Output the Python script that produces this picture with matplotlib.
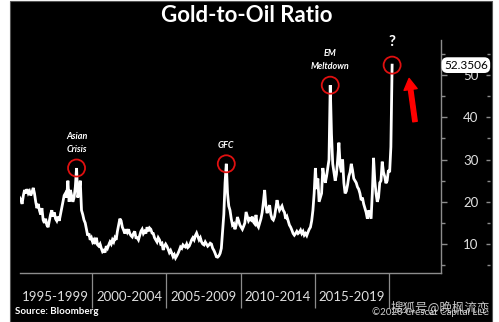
import numpy as np
import pandas as pd
import matplotlib
matplotlib.use("Agg")
import matplotlib.pyplot as plt
from matplotlib.patches import Rectangle
import matplotlib.transforms as mtransforms

# ---------------- data (monthly gold-to-oil ratio) -------------
start_month = "1995-02"
ratio_1995_1999 = [
    21, 20.5, 19.5, 21.5, 22.8, 22, 23, 22, 22.5, 21.5, 22.3,            # 1995 (Feb-Dec)
    23.3, 22, 20, 18.5, 19.5, 18, 17, 18.5, 15.7, 15, 16, 14.5,         # 1996
    14, 15.5, 17, 18, 16.5, 17.5, 16, 15.5, 16.5, 15.5, 17, 18.5,       # 1997
    20, 21.5, 22, 21, 25, 20, 22.8, 21.5, 20, 21, 23.5, 28,             # 1998
    21, 22.5, 25, 18, 17, 15.7, 15, 13.5, 12, 12.5, 11, 11.5,           # 1999
]
ratio_2000_2004 = [
    10.5, 11, 10, 11.5, 9.8, 9.5, 10, 9, 8.2, 8.5, 8, 9.5,             # 2000
    9, 9.8, 10.5, 10, 11, 10.5, 11.5, 11, 13, 14.5, 16, 15.5,           # 2001
    14, 13.3, 12.5, 13.5, 12.8, 13.5, 12.5, 12, 11.7, 12.5, 13, 11.5,   # 2002
    11.5, 11, 12, 13, 13.5, 12.5, 13, 12.5, 14, 13, 13.8, 13.5,         # 2003
    12.6, 12.5, 11.5, 11, 10.5, 11.5, 11, 10, 10.2, 8.6, 9.5, 10,       # 2004
]
ratio_2005_2009 = [
    9.5, 8.8, 8, 8.5, 7.8, 7, 7.5, 6.7, 7.2, 7.8, 8.5, 9.3,            # 2005
    9, 9.8, 9.5, 9.3, 10, 9.2, 9.5, 10.2, 11, 11.5, 11, 12,             # 2006
    12.6, 11.8, 11, 11.5, 10.5, 10, 9.8, 10.5, 10, 9.5, 9.8, 10.2,      # 2007
    10, 9, 8.5, 7.8, 7, 6.9, 7.2, 7.8, 9, 13, 17, 24.5,                 # 2008
    29, 22, 19, 18, 16, 14.5, 14.8, 13.5, 14.5, 16.4, 15.5, 14.5,       # 2009
]
ratio_2010_2014 = [
    14, 13.5, 14.2, 15, 17.6, 16.5, 15.5, 16, 15.7, 16.5, 15.2, 14.8,   # 2010
    16.9, 14.5, 14, 15, 16, 17.5, 20, 22.8, 19, 17.3, 18.5, 19.2,       # 2011
    17, 16, 15.7, 16.5, 18.5, 20.4, 19, 18, 18.5, 19, 18, 17.5,         # 2012
    16, 16.5, 15.5, 14.5, 14, 13.3, 12.5, 12.1, 12.5, 13, 12.5, 12.8,   # 2013
    13.3, 12.5, 13, 12.1, 12.5, 12, 12.8, 13.5, 14, 15.5, 18, 22,       # 2014
]
ratio_2015_2020 = [
    28, 23, 25.5, 20, 21, 22, 28, 26, 24.5, 26, 28, 30,                 # 2015
    47.6, 36, 29, 27, 25, 26.5, 30, 34, 28.5, 27, 30, 24.5,             # 2016
    22, 22.5, 24, 26, 27, 29, 27.5, 25.5, 25, 24.5, 23.5, 23,           # 2017
    22, 20.4, 21, 19.5, 18.5, 17.5, 16, 18, 17, 16, 22, 30.4,           # 2018
    25, 22, 20, 21, 24.5, 25, 29.5, 27, 26, 24.4, 25, 27.5,             # 2019
    27, 33, 52.3506,                                                    # 2020 (Jan-Mar)
]
period_labels = ["1995-1999", "2000-2004", "2005-2009", "2010-2014", "2015-2019"]
period_starts = [1995, 2000, 2005, 2010, 2015]
period_bounds = [2000, 2005, 2010, 2015, 2020]
event_labels = ["Asian\nCrisis", "GFC", "EM\nMeltdown", "?"]
event_months = ["1998-12", "2009-01", "2016-01", "2020-03"]
last_value_label = "52.3506"

values = np.array(ratio_1995_1999 + ratio_2000_2004 + ratio_2005_2009
                  + ratio_2010_2014 + ratio_2015_2020, dtype=float)
months = pd.period_range(start_month, periods=len(values), freq="M")
t = months.year + (months.month - 0.5) / 12.0
series = pd.Series(values, index=months)

# ---------------- figure ------------------------------------------------------------
W, H = 499, 322
fig = plt.figure(figsize=(W / 100, H / 100), dpi=100, facecolor="white")
fig.patches.append(Rectangle((10 / W, 0), 482 / W, 321 / H, transform=fig.transFigure,
                             facecolor="black", edgecolor="#555555", linewidth=0.8,
                             zorder=-5))

ax = fig.add_axes([20 / W, 1 - 273 / H, 421 / W, 233 / H])
ax.set_facecolor("none")
ax.plot(t, values, color="white", linewidth=2.0, solid_joinstyle="miter")

ax.set_xlim(1995.15, 2023.5)
ax.set_ylim(3.15, 58.3)

grey = "#8c8c8c"
for s in ["left", "top"]:
    ax.spines[s].set_visible(False)
for s in ["bottom", "right"]:
    ax.spines[s].set_color(grey)
    ax.spines[s].set_linewidth(1.0)

ax.yaxis.tick_right()
ax.set_yticks([10, 20, 30, 40, 50])
ax.set_yticks([5, 15, 25, 35, 45, 55], minor=True)
ax.tick_params(axis="y", which="major", direction="out", length=4, width=1,
               color=grey, labelcolor="#e0e0e0", labelsize=9.5, pad=12)
ax.tick_params(axis="y", which="minor", direction="out", length=3, width=1, color=grey)
for lab in ax.get_yticklabels():
    lab.set_fontfamily("Lato")

centers = [s + 2.5 for s in period_starts]
ax.set_xticks(centers)
ax.set_xticklabels(period_labels, fontfamily="Lato", fontsize=9.5, color="#e0e0e0")
ax.set_xticks(period_bounds, minor=True)
ax.tick_params(axis="x", which="major", length=0, pad=13)
ax.tick_params(axis="x", which="minor", direction="out", length=25, width=0.9, color=grey)

# small inward ticks on the right border
sec = ax.secondary_yaxis(1.116)
sec.spines["right"].set_visible(False)
sec.set_yticks([10, 20, 30, 40, 50])
sec.set_yticks([5, 15, 25, 35, 45, 55], minor=True)
sec.tick_params(which="both", direction="in", length=3, width=1, color=grey, labelright=False)
sec.tick_params(which="minor", length=2)

# events: circles and labels
for lab, m in zip(event_labels, event_months):
    p = pd.Period(m, freq="M")
    xv = p.year + (p.month - 0.5) / 12.0
    yv = series[p]
    ax.scatter([xv], [yv], s=150, facecolors="none", edgecolors="#e01010",
               linewidths=1.3, zorder=5, clip_on=False)
    if lab == "?":
        ax.annotate(lab, (xv, yv), xytext=(0, 17), textcoords="offset points",
                    ha="center", va="center", color="white", fontsize=11,
                    fontweight="bold", fontfamily="Lato", annotation_clip=False)
    else:
        off = 13 if "\n" not in lab else 18
        ax.annotate(lab, (xv, yv), xytext=(0, off), textcoords="offset points",
                    ha="center", va="center", color="white", fontsize=6.5,
                    fontstyle="italic", fontweight="bold", fontfamily="Lato",
                    linespacing=1.5, annotation_clip=False)

# red arrow
ax.annotate("", xy=(2021.35, 49.2), xytext=(2021.75, 39.0),
            arrowprops=dict(facecolor="#ff0000", edgecolor="#ff0000", width=3.2,
                            headwidth=9.5, headlength=8), annotation_clip=False)

# last value box
trans = mtransforms.blended_transform_factory(ax.transAxes, ax.transData)
ax.text(1.007, values[-1], last_value_label, transform=trans, ha="left", va="center",
        fontsize=8.5, fontfamily="Lato", color="black", zorder=10, clip_on=False,
        bbox=dict(boxstyle="round,pad=0.2,rounding_size=0.5", facecolor="white",
                  edgecolor="none"))

# titles and footers
fig.text(247 / W, 1 - 16 / H, "Gold-to-Oil Ratio", ha="center", va="center",
         color="white", fontsize=16, fontweight="bold", fontfamily="Lato")
fig.text(15 / W, 1 - 311 / H, "Source: Bloomberg", ha="left", va="center",
         color="white", fontsize=7, fontweight="bold", fontfamily="Lato")
fig.text(489 / W, 1 - 312 / H, "©2020 Crescat Capital LLC", ha="right", va="center",
         color="#d0d0d0", fontsize=7, fontfamily="Lato")
fig.text(490 / W, 1 - 307 / H, "搜狐号@晚枫流恋", ha="right", va="center",
         color="#e8e8e8", alpha=0.85, fontsize=9,
         fontfamily=["Noto Sans CJK SC", "DejaVu Sans"])

fig.savefig("out.png", dpi=100, facecolor="white")
